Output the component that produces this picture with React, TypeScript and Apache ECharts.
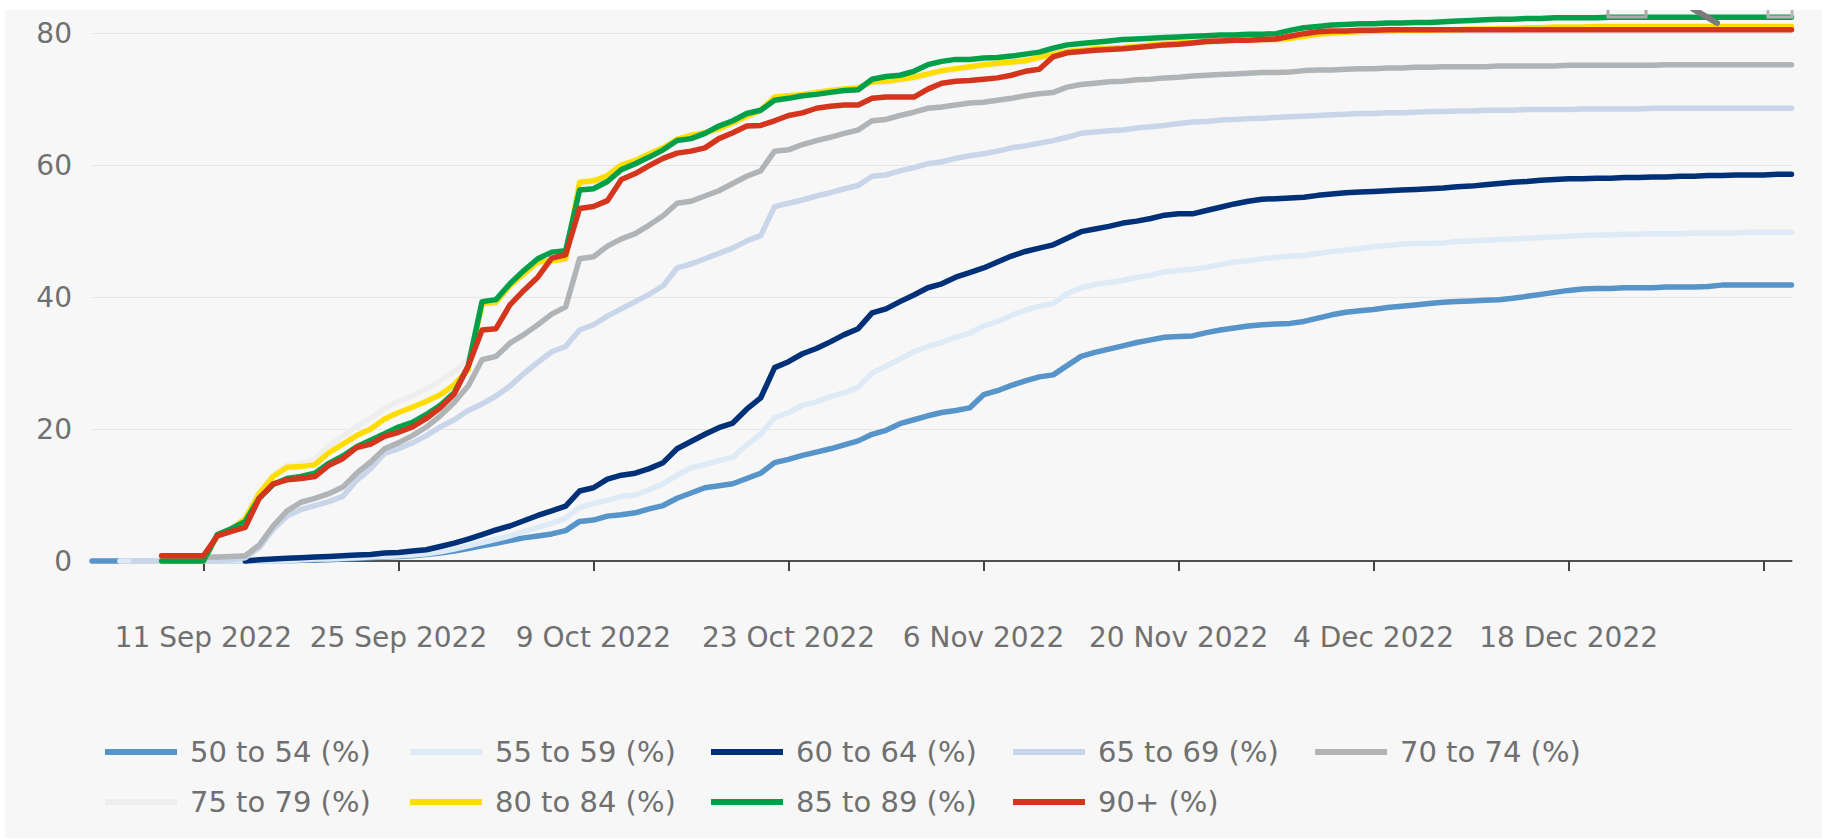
import React, { useEffect, useRef } from "react";
import * as echarts from "echarts";

// ---- Data ----
const MONTHS = ["Jan", "Feb", "Mar", "Apr", "May", "Jun", "Jul", "Aug", "Sep", "Oct", "Nov", "Dec"];
const START_YEAR = 2022;
const START_MONTH = 8; // September (0-based)
const START_DAY = 3;
const DAY_COUNT = 123; // 3 Sep 2022 .. 3 Jan 2023

const categories: string[] = [];
for (let i = 0; i < DAY_COUNT; i++) {
  const d = new Date(Date.UTC(START_YEAR, START_MONTH, START_DAY + i));
  categories.push(`${d.getUTCDate()} ${MONTHS[d.getUTCMonth()]} ${d.getUTCFullYear()}`);
}

const seriesNames = [
  "50 to 54 (%)",
  "55 to 59 (%)",
  "60 to 64 (%)",
  "65 to 69 (%)",
  "70 to 74 (%)",
  "75 to 79 (%)",
  "80 to 84 (%)",
  "85 to 89 (%)",
  "90+ (%)",
];

const seriesColors = ["#5694ca", "#deeaf6", "#003078", "#c9d6e9", "#b1b4b6", "#eeeeee", "#ffdd00", "#00a04b", "#d4351c"];

const age50to54 = [
  0, 0, 0, 0, 0, 0, 0, 0, 0, 0, 0, 0, 0, 0, 0, 0.1, 0.1, 0.2, 0.3, 0.4,
  0.5, 0.6, 0.7, 0.8, 1.0, 1.2, 1.5, 1.9, 2.3, 2.7, 3.1, 3.5, 3.8, 4.1, 4.6, 6.0, 6.2, 6.8, 7.0, 7.3,
  7.9, 8.4, 9.5, 10.3, 11.1, 11.4, 11.7, 12.5, 13.3, 14.9, 15.4, 16.0, 16.5, 17.0, 17.6, 18.2, 19.2, 19.8, 20.8, 21.4,
  22.0, 22.5, 22.8, 23.2, 25.2, 25.8, 26.6, 27.3, 27.9, 28.2, 29.6, 31.0, 31.6, 32.1, 32.6, 33.1, 33.5, 33.9, 34.0, 34.1,
  34.6, 35.0, 35.3, 35.6, 35.8, 35.9, 36.0, 36.3, 36.8, 37.3, 37.7, 37.9, 38.1, 38.4, 38.6, 38.8, 39.0, 39.2, 39.3, 39.4,
  39.5, 39.6, 39.8, 40.1, 40.4, 40.7, 41.0, 41.2, 41.3, 41.3, 41.4, 41.4, 41.4, 41.5, 41.5, 41.5, 41.6, 41.8, 41.8, 41.8,
  41.8, 41.8, 41.8,
];

const age55to59 = [
  null, null, 0, 0, 0, 0, 0, 0, 0, 0, 0, 0, 0, 0, 0, 0.2, 0.3, 0.3, 0.4, 0.5,
  0.6, 0.7, 0.8, 0.9, 1.1, 1.4, 1.8, 2.3, 2.8, 3.3, 3.8, 4.5, 5.1, 5.7, 6.5, 8.1, 8.7, 9.2, 9.8, 10.0,
  10.8, 11.7, 13.0, 14.1, 14.6, 15.2, 15.7, 17.6, 19.2, 21.7, 22.5, 23.6, 24.1, 24.9, 25.5, 26.3, 28.5, 29.5, 30.6, 31.7,
  32.5, 33.1, 33.9, 34.5, 35.6, 36.3, 37.2, 38.0, 38.6, 39.0, 40.5, 41.4, 41.9, 42.2, 42.5, 43.0, 43.3, 43.8, 44.0, 44.2,
  44.5, 44.9, 45.3, 45.5, 45.8, 46.0, 46.2, 46.3, 46.6, 46.9, 47.1, 47.3, 47.6, 47.8, 48.0, 48.1, 48.1, 48.2, 48.4, 48.5,
  48.6, 48.7, 48.8, 48.9, 49.0, 49.1, 49.2, 49.3, 49.4, 49.4, 49.5, 49.5, 49.6, 49.6, 49.6, 49.7, 49.7, 49.7, 49.7, 49.8,
  49.8, 49.8, 49.8,
];

const age60to64 = [
  null, null, null, null, null, null, null, null, null, null, null, 0, 0.2, 0.3, 0.4, 0.5, 0.6, 0.7, 0.8, 0.9,
  1.0, 1.2, 1.3, 1.5, 1.7, 2.2, 2.7, 3.3, 4.0, 4.7, 5.3, 6.1, 6.9, 7.6, 8.3, 10.6, 11.1, 12.4, 13.0, 13.3,
  14.0, 14.9, 17.0, 18.1, 19.2, 20.2, 20.9, 23.0, 24.7, 29.3, 30.2, 31.4, 32.2, 33.2, 34.3, 35.2, 37.6, 38.2, 39.3, 40.3,
  41.4, 42.0, 43.0, 43.7, 44.4, 45.3, 46.2, 46.9, 47.4, 47.9, 48.9, 49.9, 50.3, 50.7, 51.2, 51.5, 51.9, 52.4, 52.6, 52.6,
  53.1, 53.6, 54.1, 54.5, 54.8, 54.9, 55.0, 55.1, 55.4, 55.6, 55.8, 55.9, 56.0, 56.1, 56.2, 56.3, 56.4, 56.5, 56.7, 56.8,
  57.0, 57.2, 57.4, 57.5, 57.7, 57.8, 57.9, 57.9, 58.0, 58.0, 58.1, 58.1, 58.2, 58.2, 58.3, 58.3, 58.4, 58.4, 58.5, 58.5,
  58.5, 58.6, 58.6,
];

const age65to69 = [
  null, null, null, 0, 0, 0, 0, 0, 0, 0, 0.2, 0.5, 2.0, 4.8, 6.8, 7.8, 8.4, 9.0, 9.8, 12.2,
  14.0, 16.3, 17.0, 17.9, 19.0, 20.3, 21.4, 22.8, 23.8, 25.0, 26.5, 28.4, 30.1, 31.7, 32.5, 35.0, 35.8, 37.1, 38.2, 39.3,
  40.4, 41.7, 44.4, 45.0, 45.8, 46.6, 47.4, 48.5, 49.3, 53.7, 54.2, 54.7, 55.3, 55.8, 56.4, 56.9, 58.3, 58.5, 59.1, 59.6,
  60.2, 60.5, 61.0, 61.4, 61.7, 62.1, 62.6, 62.9, 63.3, 63.7, 64.2, 64.8, 65.0, 65.2, 65.3, 65.6, 65.8, 66.0, 66.3, 66.5,
  66.6, 66.8, 66.9, 67.0, 67.1, 67.2, 67.3, 67.4, 67.5, 67.6, 67.7, 67.8, 67.8, 67.9, 67.9, 68.0, 68.1, 68.1, 68.2, 68.2,
  68.3, 68.3, 68.3, 68.4, 68.4, 68.4, 68.4, 68.5, 68.5, 68.5, 68.5, 68.5, 68.6, 68.6, 68.6, 68.6, 68.6, 68.6, 68.6, 68.6,
  68.6, 68.6, 68.6,
];

const age70to74 = [
  null, null, null, null, null, 0.8, 0.8, 0.8, 0.6, 0.6, 0.7, 0.8, 2.4, 5.3, 7.6, 8.9, 9.5, 10.2, 11.2, 13.3,
  15.0, 17.0, 17.9, 19.0, 20.3, 22.0, 24.0, 26.5, 30.5, 31.0, 33.0, 34.3, 35.8, 37.4, 38.5, 45.8, 46.1, 47.7, 48.8, 49.6,
  50.9, 52.3, 54.2, 54.5, 55.3, 56.1, 57.2, 58.3, 59.1, 62.1, 62.3, 63.1, 63.7, 64.2, 64.8, 65.3, 66.7, 66.9, 67.5, 68.0,
  68.6, 68.8, 69.1, 69.4, 69.5, 69.8, 70.1, 70.5, 70.8, 71.0, 71.8, 72.2, 72.4, 72.6, 72.7, 72.9, 73.0, 73.2, 73.3, 73.5,
  73.6, 73.7, 73.8, 73.9, 74.0, 74.0, 74.1, 74.3, 74.4, 74.4, 74.5, 74.6, 74.6, 74.7, 74.7, 74.8, 74.8, 74.9, 74.9, 74.9,
  74.9, 75.0, 75.0, 75.0, 75.0, 75.0, 75.1, 75.1, 75.1, 75.1, 75.1, 75.1, 75.1, 75.2, 75.2, 75.2, 75.2, 75.2, 75.2, 75.2,
  75.2, 75.2, 75.2,
];

const age75to79 = [
  null, null, null, null, null, 0, 0, 0, 0, 3.9, 5.0, 6.6, 10.4, 13.0, 14.5, 14.8, 15.4, 17.4, 18.9, 20.4,
  21.6, 23.1, 24.2, 25.0, 26.1, 27.3, 28.7, 30.5, 38.8, 39.0, 41.5, 43.3, 45.1, 45.3, 45.6, 57.2, 57.4, 58.2, 59.8, 60.5,
  61.5, 62.4, 63.7, 64.3, 64.7, 65.3, 66.2, 67.2, 68.1, 70.1, 70.3, 70.5, 70.8, 71.1, 71.3, 71.5, 72.4, 72.5, 72.8, 73.1,
  73.6, 74.1, 74.4, 74.7, 75.0, 75.2, 75.4, 75.6, 76.1, 76.6, 77.0, 77.2, 77.4, 77.5, 77.6, 77.8, 78.0, 78.2, 78.3, 78.4,
  78.5, 78.6, 78.7, 78.7, 78.8, 78.8, 79.0, 79.3, 79.6, 79.8, 79.9, 80.0, 80.1, 80.1, 80.2, 80.2, 80.2, 80.3, 80.3, 80.4,
  80.4, 80.5, 80.5, 80.6, 80.6, 80.7, 80.7, 80.7, 80.8, 80.8, 80.8, 80.8, 80.8, 80.8, 80.8, 80.8, 80.8, 80.8, 80.8, 80.8,
  80.8, 80.8, 80.8,
];

const age80to84 = [
  null, null, null, null, null, 0, 0, 0, 0, 3.9, 4.8, 6.4, 10.2, 12.8, 14.2, 14.3, 14.6, 16.4, 17.7, 19.0,
  20.0, 21.5, 22.5, 23.3, 24.2, 25.2, 26.7, 29.0, 39.0, 39.2, 41.7, 43.5, 45.3, 45.5, 45.8, 57.4, 57.6, 58.4, 60.0, 60.7,
  61.7, 62.6, 63.9, 64.5, 64.9, 65.5, 66.4, 67.4, 68.3, 70.3, 70.5, 70.7, 71.0, 71.3, 71.5, 71.7, 72.6, 72.7, 73.0, 73.3,
  73.8, 74.3, 74.6, 74.9, 75.2, 75.4, 75.6, 75.8, 76.3, 76.8, 77.2, 77.4, 77.6, 77.7, 77.8, 78.0, 78.2, 78.4, 78.5, 78.6,
  78.7, 78.8, 78.9, 78.9, 79.0, 79.0, 79.2, 79.5, 79.8, 80.0, 80.1, 80.2, 80.3, 80.3, 80.4, 80.4, 80.4, 80.5, 80.5, 80.6,
  80.6, 80.7, 80.7, 80.8, 80.8, 80.9, 80.9, 80.9, 81.0, 81.0, 81.0, 81.0, 81.0, 81.0, 81.0, 81.0, 81.0, 81.0, 81.0, 81.0,
  81.0, 81.0, 81.0,
];

const age85to89 = [
  null, null, null, null, null, 0, 0, 0, 0, 4.0, 4.9, 6.0, 9.5, 11.6, 12.5, 12.8, 13.3, 14.8, 15.9, 17.3,
  18.3, 19.3, 20.3, 21.0, 22.2, 23.6, 25.5, 29.5, 39.3, 39.6, 42.0, 44.0, 45.8, 46.8, 47.0, 56.2, 56.4, 57.5, 59.3, 60.2,
  61.2, 62.3, 63.7, 64.0, 64.8, 65.9, 66.7, 67.8, 68.3, 69.8, 70.1, 70.5, 70.7, 71.0, 71.3, 71.4, 73.0, 73.4, 73.6, 74.2,
  75.2, 75.7, 76.0, 76.0, 76.2, 76.3, 76.5, 76.8, 77.1, 77.7, 78.2, 78.4, 78.6, 78.8, 79.0, 79.1, 79.2, 79.3, 79.4, 79.5,
  79.6, 79.7, 79.7, 79.8, 79.8, 79.9, 80.4, 80.8, 81.0, 81.2, 81.3, 81.4, 81.4, 81.5, 81.5, 81.6, 81.6, 81.7, 81.8, 81.9,
  82.0, 82.1, 82.1, 82.2, 82.2, 82.3, 82.3, 82.3, 82.3, 82.4, 82.4, 82.4, 82.4, 82.4, 82.4, 82.4, 82.4, 82.4, 82.4, 82.4,
  82.4, 82.4, 82.4,
];

const age90plus = [
  null, null, null, null, null, 0.8, 0.8, 0.8, 0.8, 3.8, 4.5, 5.1, 9.5, 11.7, 12.3, 12.5, 12.8, 14.5, 15.5, 17.2,
  17.7, 18.9, 19.5, 20.3, 21.6, 23.2, 25.3, 29.5, 35.0, 35.2, 38.8, 41.0, 43.0, 45.9, 46.4, 53.4, 53.7, 54.6, 57.8, 58.7,
  59.9, 61.0, 61.8, 62.1, 62.6, 64.0, 64.9, 65.9, 66.0, 66.7, 67.5, 67.9, 68.6, 68.9, 69.1, 69.1, 70.1, 70.3, 70.3, 70.3,
  71.5, 72.4, 72.7, 72.8, 73.0, 73.2, 73.6, 74.2, 74.5, 76.4, 77.0, 77.2, 77.4, 77.5, 77.6, 77.8, 78.0, 78.2, 78.3, 78.5,
  78.7, 78.8, 78.9, 78.9, 79.0, 79.1, 79.5, 79.9, 80.2, 80.3, 80.3, 80.4, 80.4, 80.5, 80.5, 80.5, 80.5, 80.5, 80.5, 80.5,
  80.5, 80.5, 80.5, 80.5, 80.5, 80.5, 80.5, 80.5, 80.5, 80.5, 80.5, 80.5, 80.5, 80.5, 80.5, 80.5, 80.5, 80.5, 80.5, 80.5,
  80.5, 80.5, 80.5,
];

const seriesValues = [age50to54, age55to59, age60to64, age65to69, age70to74, age75to79, age80to84, age85to89, age90plus];

const yTicks = { min: 0, max: 80, interval: 20 };
const FIRST_TICK_INDEX = 8; // 11 Sep 2022
const TICK_STEP = 14;
const HIDDEN_LABEL_INDEX = 120; // 1 Jan 2023 tick has no label

// ---- Layout / style ----
const FONT = "'DejaVu Sans', sans-serif";
const TEXT_COLOR = "#707070";
const legendSlots = [
  [100, 742], [405, 742], [706, 742], [1008, 742], [1310, 742],
  [100, 792], [405, 792], [706, 792], [1008, 792],
];

export default function App() {
  const ref = useRef<HTMLDivElement>(null);

  useEffect(() => {
    if (!ref.current) return;
    const chart = echarts.init(ref.current, undefined, { renderer: "svg" });
    const isTick = (i: number) => i >= FIRST_TICK_INDEX && (i - FIRST_TICK_INDEX) % TICK_STEP === 0;

    const option: any = {
      animation: false,
      backgroundColor: "#f7f7f7",
      grid: { left: 87, right: 30.5, top: 23, bottom: 277, containLabel: false },
      xAxis: [
        {
          type: "category",
          data: categories,
          boundaryGap: false,
          offset: 34,
          axisLine: { show: false },
          axisTick: {
            show: true,
            length: 10,
            interval: (i: number) => isTick(i),
            lineStyle: { color: "#444", width: 2 },
          },
          axisLabel: {
            interval: (i: number) => isTick(i) && i !== HIDDEN_LABEL_INDEX,
            fontFamily: FONT,
            fontSize: 28,
            color: TEXT_COLOR,
            margin: 28,
          },
          splitLine: { show: false },
        },
        {
          type: "category",
          data: categories,
          boundaryGap: false,
          position: "bottom",
          axisLine: { show: true, lineStyle: { color: "#505050", width: 2 } },
          axisTick: { show: false },
          axisLabel: { show: false },
          splitLine: { show: false },
        },
      ],
      yAxis: {
        type: "value",
        min: yTicks.min,
        max: yTicks.max,
        interval: yTicks.interval,
        axisLine: { show: false },
        axisTick: { show: false },
        axisLabel: { fontFamily: FONT, fontSize: 28, color: TEXT_COLOR, margin: 20 },
        splitLine: { show: true, lineStyle: { color: "#e6e6e6", width: 1 } },
      },
      legend: seriesNames.map((name, k) => ({
        data: [name],
        left: legendSlots[k][0],
        top: legendSlots[k][1] - 15,
        padding: 0,
        itemGap: 0,
        itemWidth: 72,
        itemHeight: 6,
        icon: "rect",
        itemStyle: { borderWidth: 0 },
        selectedMode: false,
        textStyle: { fontFamily: FONT, fontSize: 29, color: TEXT_COLOR, lineHeight: 30, padding: [0, 0, 0, 8] },
      })),
      // cropped toolbar icons visible at the top-right edge of the reference
      graphic: [
        { type: "rect", silent: true, shape: { x: 1603, y: -2, width: 38, height: 9 }, style: { fill: "none", stroke: "#a9a9a9", lineWidth: 3 }, z: 100 },
        { type: "line", silent: true, shape: { x1: 1688, y1: -1, x2: 1712, y2: 13 }, style: { stroke: "#7a7a7a", lineWidth: 6, lineCap: "round" }, z: 100 },
        { type: "rect", silent: true, shape: { x: 1763, y: -2, width: 24, height: 9 }, style: { fill: "none", stroke: "#b5b5b5", lineWidth: 3 }, z: 100 },
      ],
      series: seriesNames.map((name, k) => ({
        name,
        type: "line",
        data: seriesValues[k],
        showSymbol: false,
        symbol: "none",
        clip: false,
        silent: true,
        connectNulls: false,
        color: seriesColors[k],
        itemStyle: { color: seriesColors[k] },
        lineStyle: { color: seriesColors[k], width: 5.5, cap: "round", join: "round" },
        emphasis: { disabled: true },
      })),
    };

    chart.setOption(option);
    return () => chart.dispose();
  }, []);

  return (
    <div style={{ position: "fixed", left: 0, top: 0, width: 1822, height: 840, background: "#ffffff" }}>
      <div ref={ref} style={{ position: "absolute", left: 5, top: 10, width: 1817, height: 828 }} />
    </div>
  );
}
